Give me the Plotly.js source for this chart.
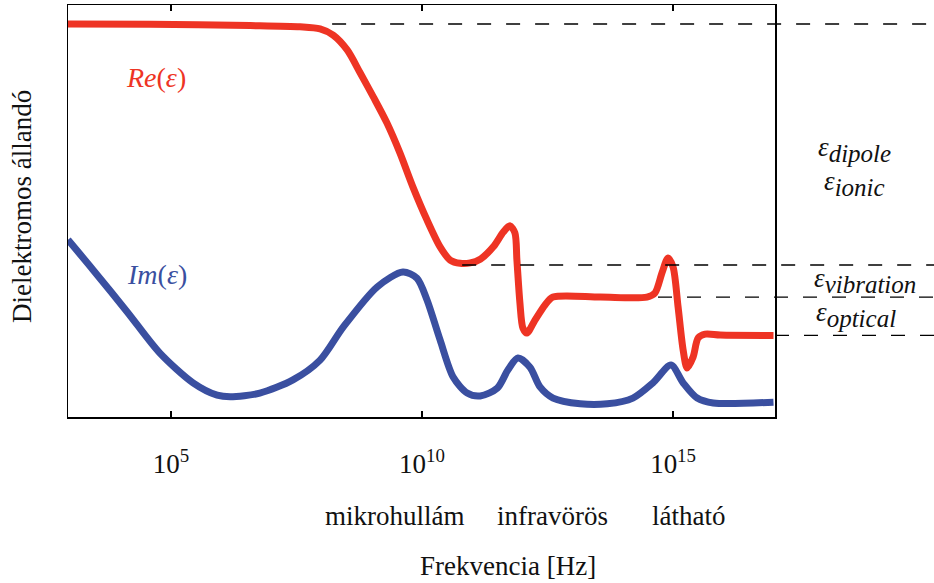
<!DOCTYPE html>
<html>
<head>
<meta charset="utf-8">
<script src="https://cdn.plot.ly/plotly-3.0.1.min.js"></script>
<style>html,body{margin:0;padding:0;background:#fff;}#chart{width:934px;height:583px;}</style>
</head>
<body>
<div id="chart"></div>
<script>
// log10(frequency [Hz]) and dielectric values (arbitrary units)
const reLogF = [2.95, 4.58, 6.58, 7.57, 7.97, 8.23, 8.51, 8.77, 9.03, 9.30, 9.56, 9.82, 10.10, 10.36, 10.56, 10.76, 10.96, 11.16, 11.42, 11.62, 11.75, 11.85, 11.89, 11.95, 12.01, 12.09, 12.25, 12.45, 12.61, 13.55, 14.48, 14.64, 14.78, 14.90, 15.00, 15.10, 15.20, 15.28, 15.40, 15.50, 15.64, 15.94, 17.00];
const reEps  = [95.4, 95.3, 95.0, 94.7, 94.2, 92.7, 89.1, 83.5, 77.7, 71.4, 64.1, 55.8, 47.8, 41.3, 38.1, 37.3, 37.4, 38.3, 41.3, 44.9, 46.4, 44.7, 38.1, 27.7, 21.6, 20.4, 23.5, 27.2, 29.1, 29.1, 29.1, 30.1, 35.0, 38.6, 36.4, 26.7, 16.3, 11.9, 14.6, 19.2, 20.1, 19.9, 19.8];

const imLogF = [2.95, 3.45, 4.13, 4.78, 5.44, 5.92, 6.18, 6.77, 7.43, 7.97, 8.43, 9.11, 9.62, 9.90, 10.10, 10.36, 10.62, 10.90, 11.16, 11.50, 11.71, 11.91, 12.15, 12.35, 12.61, 13.15, 13.69, 14.20, 14.60, 14.96, 15.20, 15.48, 15.80, 17.00];
const imEps  = [43.0, 35.7, 25.5, 15.5, 8.3, 5.3, 4.9, 5.8, 9.0, 13.8, 21.8, 31.6, 35.2, 33.7, 28.4, 18.7, 9.7, 5.8, 5.1, 7.0, 11.4, 14.3, 12.1, 7.3, 4.6, 3.2, 3.2, 4.6, 8.3, 12.6, 8.3, 4.6, 3.4, 3.6];

// reference levels (dashed) and where they start (log10 f)
const levelNames  = ["dipole", "vibration", "plateau", "optical"];
const levelValues = [95.4, 36.9, 29.1, 19.8];
const levelStarts = [8.21, 10.80, 14.70, 17.03];

const tickExps   = [5, 10, 15];
const tickLabels = ["10<sup>5</sup>", "10<sup>10</sup>", "10<sup>15</sup>"];

const bandNames = ["mikrohullám", "infravörös", "látható"];
const bandPos   = [9.46, 12.59, 15.30];

const epsSubs   = ["dipole", "ionic", "vibration", "optical"];
const epsLabelX = [855, 855, 865, 856];
const epsLabelY = [150, 183, 280, 314];

const xRange = [2.95, 17.03];
const yRange = [0, 100];

const toPow = a => a.map(v => Math.pow(10, v));

const W = 934, H = 583, L = 68, R = 159, T = 5, B = 166;
const pw = W - L - R, ph = H - T - B;
const px2paperX = x => (x - L) / pw;
const px2paperY = y => (H - B - y) / ph;
const logToPaper = v => (v - xRange[0]) / (xRange[1] - xRange[0]);

const serif = "Liberation Serif";
const red = "#EE3424", blue = "#3A4FA0";

const traces = [
  {x: toPow(reLogF), y: reEps, mode: "lines", line: {color: red, width: 7, shape: "spline", smoothing: 0.8}, hoverinfo: "skip"},
  {x: toPow(imLogF), y: imEps, mode: "lines", line: {color: blue, width: 7, shape: "spline", smoothing: 0.8}, hoverinfo: "skip"}
];

const shapes = levelValues.map((v, i) => ({
  type: "line", xref: "paper", yref: "y",
  x0: logToPaper(levelStarts[i]), x1: px2paperX(W),
  y0: v, y1: v,
  line: {color: "#000", width: 1.4, dash: "14px,15px"},
  layer: "above"
}));

const annotations = [];
bandNames.forEach((n, i) => annotations.push({
  text: n, xref: "x", yref: "paper", x: bandPos[i], y: px2paperY(516),
  showarrow: false, xanchor: "center", yanchor: "middle",
  font: {family: serif, size: 27, color: "#111"}
}));
annotations.push({
  text: "Frekvencia [Hz]", xref: "paper", yref: "paper", x: px2paperX(508), y: px2paperY(566),
  showarrow: false, xanchor: "center", yanchor: "middle",
  font: {family: serif, size: 27, color: "#111"}
});
annotations.push({
  text: "Dielektromos állandó", xref: "paper", yref: "paper", x: px2paperX(22), y: px2paperY(207),
  showarrow: false, xanchor: "center", yanchor: "middle", textangle: -90,
  font: {family: serif, size: 27, color: "#111"}
});
annotations.push({
  text: "<i>Re</i>(<i>ε</i>)", xref: "paper", yref: "paper", x: px2paperX(156), y: px2paperY(77),
  showarrow: false, xanchor: "center", yanchor: "middle",
  font: {family: serif, size: 28, color: red}
});
annotations.push({
  text: "<i>Im</i>(<i>ε</i>)", xref: "paper", yref: "paper", x: px2paperX(157), y: px2paperY(274),
  showarrow: false, xanchor: "center", yanchor: "middle",
  font: {family: serif, size: 28, color: blue}
});
epsSubs.forEach((t, i) => annotations.push({
  text: "<i>ε<sub><span style=\"font-size:25px\">" + t + "</span></sub></i>",
  xref: "paper", yref: "paper", x: px2paperX(epsLabelX[i]), y: px2paperY(epsLabelY[i]),
  showarrow: false, xanchor: "center", yanchor: "middle",
  font: {family: serif, size: 27, color: "#111"}
}));

const layout = {
  width: W, height: H,
  margin: {l: L, r: R, t: T, b: B, pad: 0},
  paper_bgcolor: "#fff", plot_bgcolor: "#fff",
  showlegend: false,
  xaxis: {
    type: "log", range: xRange, showgrid: false, zeroline: false,
    showline: true, linecolor: "#000", linewidth: 1.5, mirror: "ticks",
    ticks: "inside", ticklen: 6, tickwidth: 1.2, tickcolor: "#000",
    tickvals: toPow(tickExps), ticktext: tickLabels,
    ticklabelstandoff: 22,
    tickfont: {family: serif, size: 27, color: "#111"}
  },
  yaxis: {
    range: yRange, showgrid: false, zeroline: false,
    showline: true, linecolor: "#000", linewidth: 1.5, mirror: true,
    ticks: "", showticklabels: false
  },
  shapes: shapes,
  annotations: annotations
};

Plotly.newPlot("chart", traces, layout, {staticPlot: true, displayModeBar: false});
</script>
</body>
</html>
